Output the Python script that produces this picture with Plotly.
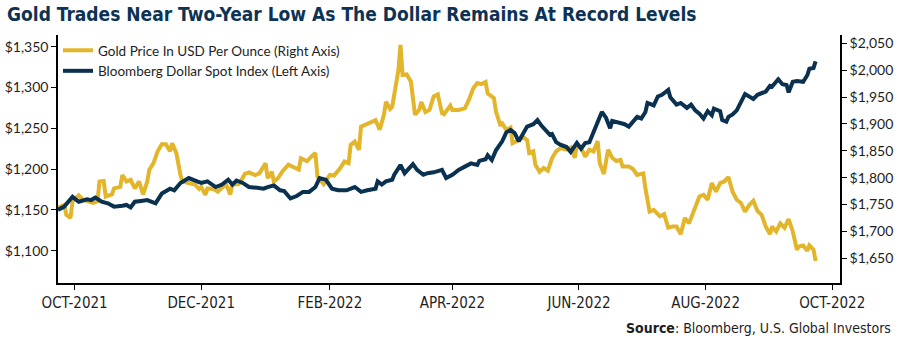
import plotly.graph_objects as go

# Gold price, USD per ounce (right axis) - (date, value)
gold_points = [
    ("2021-09-23", 1744), ("2021-09-26", 1749), ("2021-09-27", 1731), ("2021-09-29", 1725), ("2021-09-30", 1756),
    ("2021-10-03", 1767), ("2021-10-05", 1759), ("2021-10-08", 1756), ("2021-10-10", 1753), ("2021-10-12", 1756),
    ("2021-10-13", 1793), ("2021-10-15", 1794), ("2021-10-16", 1765), ("2021-10-19", 1769), ("2021-10-20", 1780),
    ("2021-10-23", 1783), ("2021-10-24", 1805), ("2021-10-26", 1793), ("2021-10-28", 1796), ("2021-10-30", 1780),
    ("2021-11-01", 1793), ("2021-11-03", 1769), ("2021-11-05", 1793), ("2021-11-06", 1815), ("2021-11-08", 1827),
    ("2021-11-10", 1849), ("2021-11-12", 1862), ("2021-11-14", 1862), ("2021-11-16", 1849), ("2021-11-17", 1864),
    ("2021-11-19", 1846), ("2021-11-21", 1805), ("2021-11-22", 1793), ("2021-11-25", 1790), ("2021-11-28", 1787),
    ("2021-11-30", 1779), ("2021-12-01", 1783), ("2021-12-03", 1768), ("2021-12-04", 1780), ("2021-12-07", 1779),
    ("2021-12-09", 1774), ("2021-12-12", 1785), ("2021-12-13", 1787), ("2021-12-15", 1769), ("2021-12-16", 1787),
    ("2021-12-19", 1788), ("2021-12-20", 1793), ("2021-12-22", 1807), ("2021-12-24", 1810), ("2021-12-27", 1805),
    ("2021-12-29", 1808), ("2022-01-01", 1827), ("2022-01-02", 1799), ("2022-01-04", 1811), ("2022-01-05", 1793),
    ("2022-01-07", 1799), ("2022-01-09", 1811), ("2022-01-12", 1824), ("2022-01-14", 1821), ("2022-01-17", 1815),
    ("2022-01-18", 1836), ("2022-01-21", 1831), ("2022-01-23", 1839), ("2022-01-25", 1846), ("2022-01-26", 1802),
    ("2022-01-29", 1788), ("2022-02-01", 1805), ("2022-02-03", 1804), ("2022-02-06", 1818), ("2022-02-08", 1830),
    ("2022-02-10", 1827), ("2022-02-11", 1861), ("2022-02-13", 1867), ("2022-02-15", 1852), ("2022-02-16", 1895),
    ("2022-02-18", 1898), ("2022-02-19", 1901), ("2022-02-21", 1903), ("2022-02-23", 1907), ("2022-02-25", 1889),
    ("2022-02-27", 1917), ("2022-02-28", 1941), ("2022-03-02", 1928), ("2022-03-03", 1932), ("2022-03-05", 1972),
    ("2022-03-06", 2000), ("2022-03-07", 2047), ("2022-03-08", 1991), ("2022-03-10", 1992), ("2022-03-12", 1979),
    ("2022-03-14", 1917), ("2022-03-16", 1926), ("2022-03-17", 1941), ("2022-03-19", 1922), ("2022-03-21", 1926),
    ("2022-03-23", 1951), ("2022-03-25", 1955), ("2022-03-27", 1920), ("2022-03-28", 1918), ("2022-03-31", 1934),
    ("2022-04-01", 1926), ("2022-04-04", 1926), ("2022-04-07", 1929), ("2022-04-09", 1945), ("2022-04-11", 1966),
    ("2022-04-13", 1976), ("2022-04-15", 1974), ("2022-04-17", 1978), ("2022-04-18", 1957), ("2022-04-21", 1948),
    ("2022-04-22", 1923), ("2022-04-24", 1899), ("2022-04-25", 1901), ("2022-04-27", 1889), ("2022-04-29", 1893),
    ("2022-04-30", 1864), ("2022-05-03", 1870), ("2022-05-05", 1876), ("2022-05-07", 1870), ("2022-05-08", 1846),
    ("2022-05-10", 1849), ("2022-05-11", 1824), ("2022-05-13", 1811), ("2022-05-15", 1818), ("2022-05-17", 1813),
    ("2022-05-19", 1836), ("2022-05-21", 1849), ("2022-05-23", 1855), ("2022-05-26", 1852), ("2022-05-28", 1856),
    ("2022-05-30", 1837), ("2022-05-31", 1861), ("2022-06-02", 1855), ("2022-06-04", 1839), ("2022-06-06", 1852),
    ("2022-06-08", 1849), ("2022-06-10", 1868), ("2022-06-11", 1827), ("2022-06-13", 1807), ("2022-06-15", 1852),
    ("2022-06-17", 1837), ("2022-06-19", 1831), ("2022-06-21", 1833), ("2022-06-22", 1821), ("2022-06-25", 1821),
    ("2022-06-27", 1816), ("2022-06-29", 1805), ("2022-07-02", 1808), ("2022-07-03", 1780), ("2022-07-05", 1737),
    ("2022-07-07", 1740), ("2022-07-10", 1728), ("2022-07-12", 1732), ("2022-07-14", 1707), ("2022-07-16", 1709),
    ("2022-07-18", 1709), ("2022-07-20", 1695), ("2022-07-22", 1725), ("2022-07-24", 1715), ("2022-07-27", 1743),
    ("2022-07-29", 1765), ("2022-07-31", 1768), ("2022-08-02", 1759), ("2022-08-04", 1790), ("2022-08-06", 1774),
    ("2022-08-08", 1790), ("2022-08-10", 1793), ("2022-08-12", 1801), ("2022-08-14", 1774), ("2022-08-16", 1759),
    ("2022-08-18", 1753), ("2022-08-20", 1737), ("2022-08-22", 1749), ("2022-08-24", 1757), ("2022-08-26", 1738),
    ("2022-08-28", 1731), ("2022-08-30", 1709), ("2022-09-01", 1695), ("2022-09-02", 1709), ("2022-09-04", 1700),
    ("2022-09-06", 1715), ("2022-09-08", 1707), ("2022-09-10", 1723), ("2022-09-12", 1700), ("2022-09-14", 1666),
    ("2022-09-15", 1672), ("2022-09-17", 1674), ("2022-09-19", 1664), ("2022-09-20", 1674), ("2022-09-22", 1666),
    ("2022-09-23", 1645),
]

# Bloomberg Dollar Spot Index (left axis) - (date, value)
dollar_points = [
    ("2021-09-23", 1150), ("2021-09-26", 1154), ("2021-09-30", 1166), ("2021-10-03", 1160), ("2021-10-07", 1163),
    ("2021-10-09", 1162), ("2021-10-11", 1165), ("2021-10-14", 1160), ("2021-10-17", 1158), ("2021-10-20", 1154),
    ("2021-10-24", 1155), ("2021-10-26", 1156), ("2021-10-28", 1153), ("2021-10-30", 1160), ("2021-11-02", 1161),
    ("2021-11-05", 1162), ("2021-11-09", 1158), ("2021-11-12", 1170), ("2021-11-16", 1176), ("2021-11-18", 1174),
    ("2021-11-21", 1183), ("2021-11-25", 1189), ("2021-11-29", 1185), ("2021-12-01", 1183), ("2021-12-04", 1185),
    ("2021-12-08", 1178), ("2021-12-11", 1181), ("2021-12-14", 1187), ("2021-12-16", 1181), ("2021-12-18", 1186),
    ("2021-12-21", 1183), ("2021-12-24", 1178), ("2021-12-28", 1177), ("2021-12-31", 1176), ("2022-01-02", 1178),
    ("2022-01-05", 1180), ("2022-01-08", 1174), ("2022-01-10", 1173), ("2022-01-13", 1164), ("2022-01-16", 1167),
    ("2022-01-19", 1172), ("2022-01-22", 1172), ("2022-01-25", 1178), ("2022-01-27", 1189), ("2022-01-30", 1187),
    ("2022-02-02", 1176), ("2022-02-05", 1174), ("2022-02-09", 1174), ("2022-02-13", 1178), ("2022-02-16", 1172),
    ("2022-02-19", 1174), ("2022-02-23", 1176), ("2022-02-24", 1185), ("2022-02-26", 1181), ("2022-02-28", 1185),
    ("2022-03-03", 1187), ("2022-03-04", 1193), ("2022-03-07", 1205), ("2022-03-09", 1195), ("2022-03-11", 1201),
    ("2022-03-13", 1206), ("2022-03-15", 1199), ("2022-03-18", 1193), ("2022-03-20", 1195), ("2022-03-23", 1196),
    ("2022-03-27", 1199), ("2022-03-29", 1189), ("2022-04-01", 1193), ("2022-04-04", 1199), ("2022-04-07", 1203),
    ("2022-04-10", 1207), ("2022-04-13", 1205), ("2022-04-14", 1210), ("2022-04-17", 1212), ("2022-04-18", 1217),
    ("2022-04-20", 1211), ("2022-04-22", 1223), ("2022-04-25", 1234), ("2022-04-27", 1245), ("2022-04-29", 1248),
    ("2022-05-01", 1244), ("2022-05-03", 1234), ("2022-05-05", 1244), ("2022-05-07", 1252), ("2022-05-10", 1255),
    ("2022-05-12", 1260), ("2022-05-14", 1253), ("2022-05-16", 1248), ("2022-05-18", 1242), ("2022-05-19", 1243),
    ("2022-05-21", 1233), ("2022-05-23", 1230), ("2022-05-26", 1227), ("2022-05-28", 1221), ("2022-05-31", 1232),
    ("2022-06-02", 1225), ("2022-06-04", 1232), ("2022-06-06", 1233), ("2022-06-08", 1246), ("2022-06-10", 1259),
    ("2022-06-12", 1270), ("2022-06-14", 1263), ("2022-06-16", 1250), ("2022-06-17", 1259), ("2022-06-21", 1256),
    ("2022-06-23", 1255), ("2022-06-25", 1252), ("2022-06-28", 1260), ("2022-06-29", 1264), ("2022-07-01", 1262),
    ("2022-07-03", 1270), ("2022-07-04", 1281), ("2022-07-07", 1278), ("2022-07-09", 1289), ("2022-07-11", 1291),
    ("2022-07-14", 1297), ("2022-07-15", 1288), ("2022-07-18", 1279), ("2022-07-20", 1281), ("2022-07-23", 1275),
    ("2022-07-25", 1279), ("2022-07-27", 1272), ("2022-07-29", 1268), ("2022-07-31", 1262), ("2022-08-02", 1271),
    ("2022-08-04", 1266), ("2022-08-05", 1274), ("2022-08-08", 1271), ("2022-08-09", 1260), ("2022-08-11", 1258),
    ("2022-08-12", 1264), ("2022-08-14", 1267), ("2022-08-16", 1272), ("2022-08-20", 1292), ("2022-08-22", 1289),
    ("2022-08-24", 1286), ("2022-08-26", 1291), ("2022-08-29", 1294), ("2022-08-30", 1295), ("2022-09-01", 1302),
    ("2022-09-02", 1301), ("2022-09-05", 1310), ("2022-09-07", 1304), ("2022-09-09", 1303), ("2022-09-10", 1294),
    ("2022-09-12", 1307), ("2022-09-14", 1308), ("2022-09-17", 1307), ("2022-09-19", 1315), ("2022-09-20", 1323),
    ("2022-09-22", 1324), ("2022-09-23", 1332),
]

gold_dates = [d for d, _ in gold_points]
gold_price = [v for _, v in gold_points]
dollar_dates = [d for d, _ in dollar_points]
dollar_index = [v for _, v in dollar_points]

x_tick_dates = ["2021-10-01", "2021-12-01", "2022-02-01", "2022-04-01",
                "2022-06-01", "2022-08-01", "2022-10-01"]
x_tick_labels = ["OCT-2021", "DEC-2021", "FEB-2022", "APR-2022",
                 "JUN-2022", "AUG-2022", "OCT-2022"]
left_ticks = [1100, 1150, 1200, 1250, 1300, 1350]
right_ticks = [1650, 1700, 1750, 1800, 1850, 1900, 1950, 2000, 2050]
left_tick_text = ["$" + format(v, ",") for v in left_ticks]
right_tick_text = ["$" + format(v, ",") for v in right_ticks]

GOLD = "#E3B52A"
NAVY = "#0B3150"
TITLE_COLOR = "#0C3355"
TEXT = "#1E1E1E"
NARROW = "DejaVu Sans Condensed, Liberation Sans Narrow, Roboto, sans-serif"
SANS = "Lato, Roboto, sans-serif"

fig = go.Figure()
fig.add_trace(go.Scatter(
    x=gold_dates, y=gold_price, mode="lines",
    name="Gold Price In USD Per Ounce (Right Axis)",
    line=dict(color=GOLD, width=4), yaxis="y", legendgroup="gold",
))
fig.add_trace(go.Scatter(
    x=dollar_dates, y=dollar_index, mode="lines",
    name="Bloomberg Dollar Spot Index (Left Axis)",
    line=dict(color=NAVY, width=4), yaxis="y2", legendgroup="dollar",
))

axis_common = dict(
    showline=True, linecolor="black", linewidth=1.5,
    ticks="outside", ticklen=5, tickwidth=1.2, tickcolor="black",
    showgrid=False, zeroline=False, automargin=False,
)

fig.update_layout(
    width=900, height=339,
    margin=dict(l=58, r=60, t=35, b=56, autoexpand=False),
    paper_bgcolor="white", plot_bgcolor="white",
    title=dict(
        text="<b>Gold Trades Near Two-Year Low As The Dollar Remains At Record Levels</b>",
        font=dict(family=NARROW, size=19, color=TITLE_COLOR),
        x=7 / 900, xanchor="left", xref="container",
        y=1 - 14 / 339, yanchor="middle", yref="container",
    ),
    xaxis=dict(
        type="date", range=["2021-09-23", "2022-10-04 18:00"],
        tickvals=x_tick_dates, ticktext=x_tick_labels,
        tickfont=dict(family=NARROW, size=15, color=TEXT),
        **axis_common,
    ),
    yaxis=dict(
        side="right", range=[1604.1, 2065.4],
        tickvals=right_ticks, ticktext=right_tick_text,
        tickfont=dict(family=SANS, size=14, color=TEXT),
        **axis_common,
    ),
    yaxis2=dict(
        side="left", overlaying="y", range=[1060.4, 1364.3],
        tickvals=left_ticks, ticktext=left_tick_text,
        tickfont=dict(family=SANS, size=14, color=TEXT),
        **axis_common,
    ),
    showlegend=True,
    legend=dict(
        x=0.0, y=1.0, xanchor="left", yanchor="top",
        bgcolor="rgba(0,0,0,0)", tracegroupgap=0,
        font=dict(family=SANS, size=13.5, color=TEXT),
    ),
    annotations=[dict(
        text="<b>Source</b>: Bloomberg, U.S. Global Investors",
        xref="paper", yref="paper", x=(893 - 58) / 782, y=-(328 - 283) / 248,
        xanchor="right", yanchor="middle", showarrow=False,
        font=dict(family=NARROW, size=14, color=TEXT),
    )],
)

fig.write_html("out.html")
